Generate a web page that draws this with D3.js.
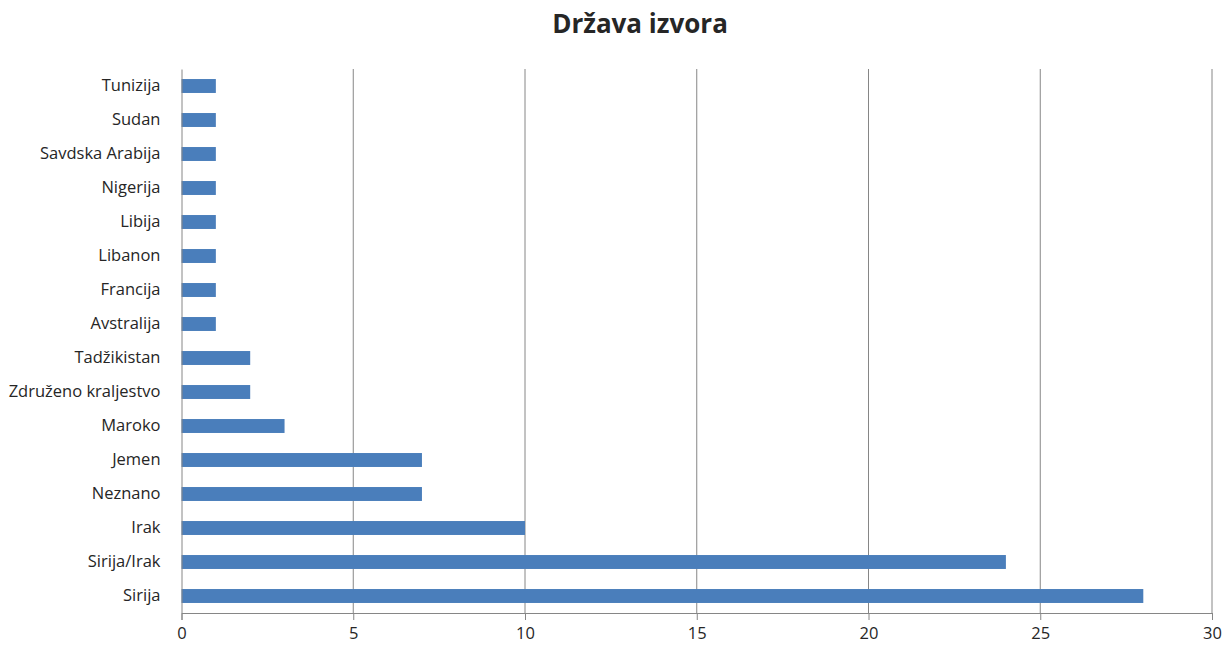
<!DOCTYPE html>
<html>
<head>
<meta charset="utf-8">
<script src="https://cdn.jsdelivr.net/npm/d3@7"></script>
<style>
  body { margin: 0; background: #fff; }
  text { font-family: "Open Sans", sans-serif; fill: #262626; }
</style>
</head>
<body>
<div id="chart"></div>
<script>
// data, top to bottom as in the picture
var countries = ["Tunizija", "Sudan", "Savdska Arabija", "Nigerija", "Libija", "Libanon",
  "Francija", "Avstralija", "Tadžikistan", "Združeno kraljestvo", "Maroko", "Jemen",
  "Neznano", "Irak", "Sirija/Irak", "Sirija"];
var counts = [1, 1, 1, 1, 1, 1, 1, 1, 2, 2, 3, 7, 7, 10, 24, 28];
var xTicks = [0, 5, 10, 15, 20, 25, 30];

var svgWidth = 1230;
var svgHeight = 647;
var margin = { top: 69, right: 18, bottom: 34, left: 181.5 };
var width = svgWidth - margin.left - margin.right;
var height = svgHeight - margin.top - margin.bottom;

var svg = d3.select("#chart")
  .append("svg")
  .attr("width", svgWidth)
  .attr("height", svgHeight);

svg.append("text")
  .attr("x", 640)
  .attr("y", 33)
  .attr("text-anchor", "middle")
  .style("font-size", "26px")
  .style("font-weight", "bold")
  .text("Država izvora");

var chartGroup = svg.append("g")
  .attr("transform", `translate(${margin.left}, ${margin.top})`);

var xScale = d3.scaleLinear().domain([0, 30]).range([0, width]);
var yScale = d3.scaleBand().domain(countries).range([0, height]).paddingInner(0.59).paddingOuter(0.295);

// gridlines
chartGroup.selectAll(".grid")
  .data(xTicks.slice(1))
  .enter()
  .append("line")
  .attr("x1", d => xScale(d))
  .attr("x2", d => xScale(d))
  .attr("y1", 0)
  .attr("y2", height)
  .attr("stroke", "#868686")
  .attr("stroke-width", 1);

// bars
chartGroup.selectAll("rect")
  .data(counts)
  .enter()
  .append("rect")
  .attr("x", 0)
  .attr("y", (d, i) => yScale(countries[i]))
  .attr("width", d => xScale(d))
  .attr("height", yScale.bandwidth())
  .attr("fill", "#4a7ebb");

// x axis
var bottomAxis = d3.axisBottom(xScale).tickValues(xTicks).tickSize(7).tickPadding(7);
var xAxis = chartGroup.append("g")
  .attr("transform", `translate(0, ${height})`)
  .call(bottomAxis);
xAxis.select(".domain").attr("stroke", "#868686");
xAxis.selectAll(".tick line").attr("stroke", "#868686");
xAxis.selectAll("text").style("font-size", "16.5px").attr("fill", "#262626");

// y axis
var leftAxis = d3.axisLeft(yScale).tickSize(0).tickPadding(21);
var yAxis = chartGroup.append("g").call(leftAxis);
yAxis.select(".domain").attr("stroke", "#868686");
yAxis.selectAll("text").style("font-size", "16.5px").attr("fill", "#262626");
</script>
</body>
</html>
